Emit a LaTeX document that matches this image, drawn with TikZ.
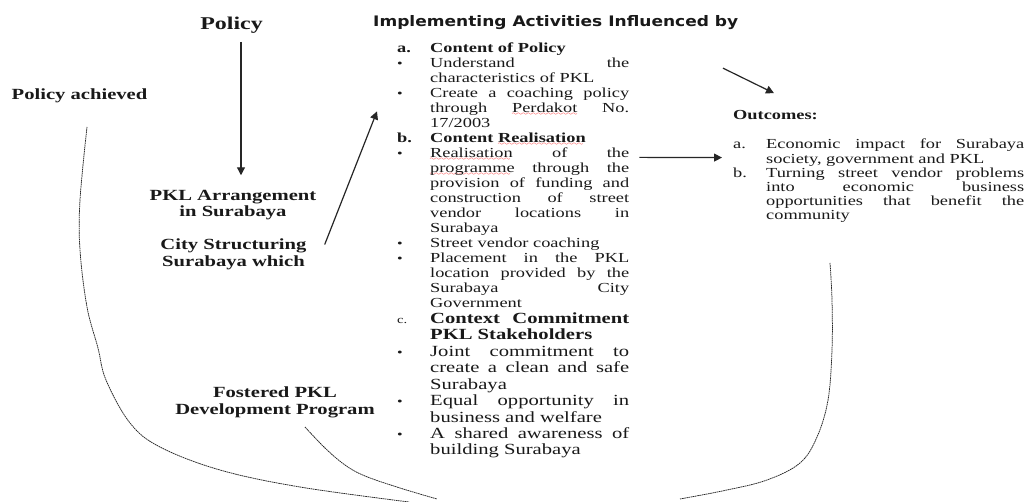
\documentclass[tikz,border=0pt]{standalone}
\usepackage{fontspec}
\usepackage{graphicx}
\usetikzlibrary{arrows.meta}
\setmainfont{Liberation Serif}[FakeStretch=1.33]
\newfontfamily\headfont{DejaVu Sans}
\font\wavefnt=lasy6
% red wavy underline for the flagged words
\newcommand\spellwave[1]{\setbox0\hbox{#1}\rlap{\raisebox{-3.5pt}[0pt][0pt]{\textcolor{red}{\hbox to \wd0{\leaders\hbox{\wavefnt\char58}\hfil}}}}\box0\relax}
% list entry: label in a fixed box, continuation lines hang under the text
\newcommand\itm[2]{\noindent\hangindent=33pt\hangafter=1\makebox[33pt][l]{#1}#2\par}
\newcommand\bul{{\fontsize{12}{12}\selectfont\textbullet}}
\begin{document}
\begin{tikzpicture}[x=1pt,y=1pt,
  lbl/.style={inner sep=0pt, text=black!90, font=\bfseries\fontsize{15.5}{17}\selectfont},
  listbox/.style={inner sep=0pt, anchor=base west, text=black!90, align=justify},
  arr/.style={draw=black!85, line width=1.2pt, -{Triangle[length=8pt,width=8pt]}},
  bracket/.style={draw=black!85, line width=0.75pt, dash pattern=on 1.6pt off 0.6pt}]
\fill[white] (0,0) rectangle (1025,-502);
\useasboundingbox (0,0) rectangle (1025,-502);

% left column (two-line labels are placed by the baseline of their last line)
\node[lbl, anchor=base, font=\bfseries\fontsize{18}{20}\selectfont] (policy) at (231.5,-29.3) {Policy};
\node[lbl, anchor=base] (achieved) at (79.5,-99.3) {Policy achieved};
\node[lbl, anchor=base, align=center, font=\bfseries\fontsize{15.5}{16}\selectfont] (arrange) at (233,-216.7) {PKL Arrangement\\in Surabaya};
\node[lbl, anchor=base, align=center] (city) at (233.5,-266.7) {City Structuring\\Surabaya which};
\node[lbl, anchor=base, align=center] (foster) at (275,-414) {Fostered PKL\\Development Program};

% middle column
\node[inner sep=0pt, anchor=base west, text=black!90] (impl) at (373,-26.7) {\resizebox{365pt}{\height}{\headfont\bfseries\fontsize{14.5}{16}\selectfont Implementing Activities Influenced by}};

\node[listbox, text width=232pt, font=\fontsize{13.8}{15}\selectfont] (ab) at (397,-52.3) {%
\hyphenpenalty=10000 \tolerance=10000 \hbadness=10000
\itm{\textbf{a.}}{\textbf{Content of Policy}}
\itm{\bul}{Understand the\linebreak characteristics of PKL}
\itm{\bul}{Create a coaching policy\linebreak through \spellwave{Perdakot} No.\linebreak 17/2003}
\itm{\textbf{b.}}{\textbf{Content \spellwave{Realisation}}}
\itm{\bul}{\spellwave{Realisation} of the\linebreak \spellwave{programme} through the\linebreak provision of funding and\linebreak construction of street\linebreak vendor locations in\linebreak Surabaya}
\itm{\bul}{Street vendor coaching}
\itm{\bul}{Placement in the PKL\linebreak location provided by the\linebreak Surabaya City\linebreak Government}
};

\node[listbox, text width=232pt, font=\fontsize{15.5}{16.46}\selectfont] (cc) at (397,-323.3) {%
\hyphenpenalty=10000 \tolerance=10000 \hbadness=10000
\itm{{\fontsize{11}{11}\selectfont c.}}{\textbf{Context Commitment\linebreak PKL Stakeholders}}
\itm{\bul}{Joint commitment to\linebreak create a clean and safe\linebreak Surabaya}
\itm{\bul}{Equal opportunity in\linebreak business and welfare}
\itm{\bul}{A shared awareness of\linebreak building Surabaya}
};

% right column
\node[inner sep=0pt, anchor=base west, text=black!90, font=\bfseries\fontsize{13.8}{15}\selectfont] (outtitle) at (733,-120) {Outcomes:};
\node[listbox, text width=291pt, font=\fontsize{13.8}{14.2}\selectfont] (outlist) at (733,-149) {%
\hyphenpenalty=10000 \tolerance=10000 \hbadness=10000
\itm{a.}{Economic impact for Surabaya\linebreak society, government and PKL}
\itm{b.}{Turning street vendor problems\linebreak into economic business\linebreak opportunities that benefit the\linebreak community}
};

% arrows
\draw[arr] ([xshift=9.5pt,yshift=-8.5pt]policy.south) -- ([xshift=8pt,yshift=15pt]arrange.north);
\draw[arr] ([shift={(18pt,10pt)}]city.east) -- ([shift={(-20pt,-69pt)}]ab.north west);
\draw[arr] ([shift={(10pt,-115pt)}]ab.north east) -- ([shift={(-11pt,-18.5pt)}]outlist.north west);
\draw[arr] ([shift={(-10pt,42.5pt)}]outtitle.north west) -- ([shift={(41pt,17.5pt)}]outtitle.north west);

% dashed brackets closing the cycle at the bottom
\draw[bracket] plot[smooth, tension=0.6] coordinates {(87,-127) (80,-200) (80,-250) (87,-307) (98,-348) (106,-380) (130,-423) (160,-447) (220,-470) (300,-487) (409,-502)};
\draw[bracket] plot[smooth, tension=0.6] coordinates {(305,-427) (325,-448) (345,-465) (365,-476) (400,-488) (437,-499)};
\draw[bracket] plot[smooth, tension=0.6] coordinates {(830,-263) (832,-300) (832,-350) (828,-400) (817,-437) (800,-463) (767,-480) (727,-490) (680,-499)};
\end{tikzpicture}
\end{document}
